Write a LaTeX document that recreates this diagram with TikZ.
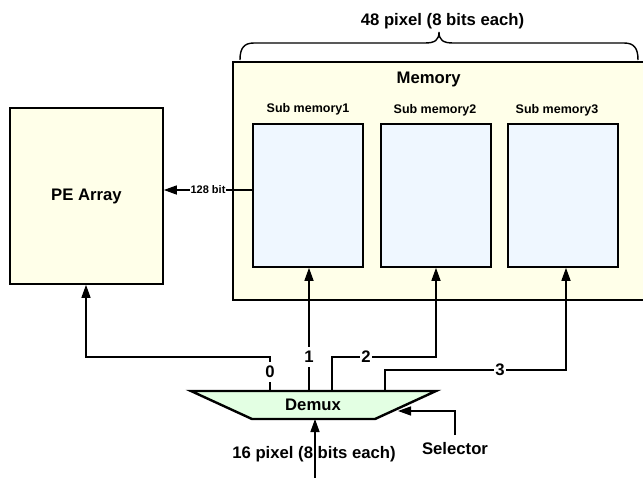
\documentclass[tikz,border=0pt]{standalone}
\usepackage{fontspec}
\setmainfont{Liberation Sans}
\usetikzlibrary{arrows.meta}
\definecolor{boxyellow}{HTML}{FFFFE9}
\definecolor{subblue}{HTML}{EFF7FF}
\definecolor{demuxgreen}{HTML}{E3FFE3}
\tikzset{
  bigbox/.style={draw=black, line width=1.6pt, fill=boxyellow, minimum width=#1, inner sep=0pt},
  subbox/.style={draw=black, line width=1.6pt, fill=subblue, minimum width=110pt, minimum height=143pt, inner sep=0pt},
  bigtext/.style={font=\fontsize{16.7}{18}\selectfont\bfseries, inner sep=0pt},
  subtext/.style={font=\fontsize{12.5}{14}\selectfont\bfseries, inner sep=0pt},
  smalltext/.style={font=\fontsize{11}{12}\selectfont\bfseries, fill=white, inner xsep=1pt, inner ysep=2pt},
  numlabel/.style={font=\fontsize{16.7}{18}\selectfont\bfseries, fill=white, inner xsep=1pt, inner ysep=4pt},
  arr/.style={line width=1.4pt, -{Triangle[length=13pt,width=9pt]}},
}
\begin{document}
\begin{tikzpicture}[x=1pt,y=-1pt]
\useasboundingbox (0,0) rectangle (643,477);
\clip (0,0) rectangle (643,477);
% boxes
\node[bigbox=153pt, minimum height=176pt] (pe) at (86.5,196) {};
\node[bigtext] (petext) at (86.5,196) {PE Array};
\node[bigbox=427pt, minimum height=238pt] (mem) at (446.5,181) {};
\node[bigtext, anchor=base] (memtext) at (428.7,83) {Memory};
\node[subbox] (sub1) at (308,195.5) {};
\node[subbox] (sub2) at (436,195.5) {};
\node[subbox] (sub3) at (563,195.5) {};
\node[subtext, anchor=base] (s1t) at (308,112) {Sub memory1};
\node[subtext, anchor=base] (s2t) at (435,113) {Sub memory2};
\node[subtext, anchor=base] (s3t) at (557,113) {Sub memory3};
% brace
\draw[line width=1.4pt] (240,60) .. controls (240,48) and (244,43) .. (254,43) -- (425,43)
  .. controls (435,43) and (439,40) .. (439,32) .. controls (439,40) and (443,43) .. (453,43)
  -- (624,43) .. controls (634,43) and (638,48) .. (638,60);
\node[bigtext, anchor=base] (toptext) at (442.5,25.5) {48 pixel (8 bits each)};
% demux
\coordinate (dtl) at (191,391);
\coordinate (dtr) at (436,391);
\coordinate (dbr) at (375,419);
\coordinate (dbl) at (252,419);
\draw[line width=2.4pt, fill=demuxgreen, line join=miter] (dtl) -- (dtr) -- (dbr) -- (dbl) -- cycle;
\node[bigtext, anchor=base] (demux) at (313,410) {Demux};
% 128 bit
\draw[arr] (sub1.west |- 0,190) -- (pe.east |- 0,190) node[smalltext, pos=0.5] (bw) {128 bit};
% outputs
\coordinate (o0) at (270,391);
\coordinate (o1) at (309,391);
\coordinate (o2) at (332,391);
\coordinate (o3) at (385,391);
\draw[arr] (o0) -- (270,357) -- (86,357) -- (pe.south -| 86,0);
\node[numlabel] (l0) at (270,372) {0};
\draw[arr] (o1) -- (sub1.south -| 309,0);
\node[numlabel] (l1) at (309,357) {1};
\draw[arr] (o2) -- (332,357) -- (436,357) -- (sub2.south);
\node[numlabel, inner ysep=1pt] (l2) at (366,357) {2};
\draw[arr] (o3) -- (385,370) -- (566,370) -- (sub3.south -| 566,0);
\node[numlabel, inner ysep=1pt] (l3) at (500,370) {3};
% input
\coordinate (in) at (315,480);
\draw[arr] (in) -- (315,419);
\node[bigtext, anchor=base] (intext) at (314,458) {16 pixel (8 bits each)};
% selector
\coordinate (selb) at (455,435);
\draw[arr] (selb) -- (455,411) -- (398,411);
\node[bigtext, anchor=base] (seltext) at (455,454) {Selector};
\end{tikzpicture}
\end{document}
